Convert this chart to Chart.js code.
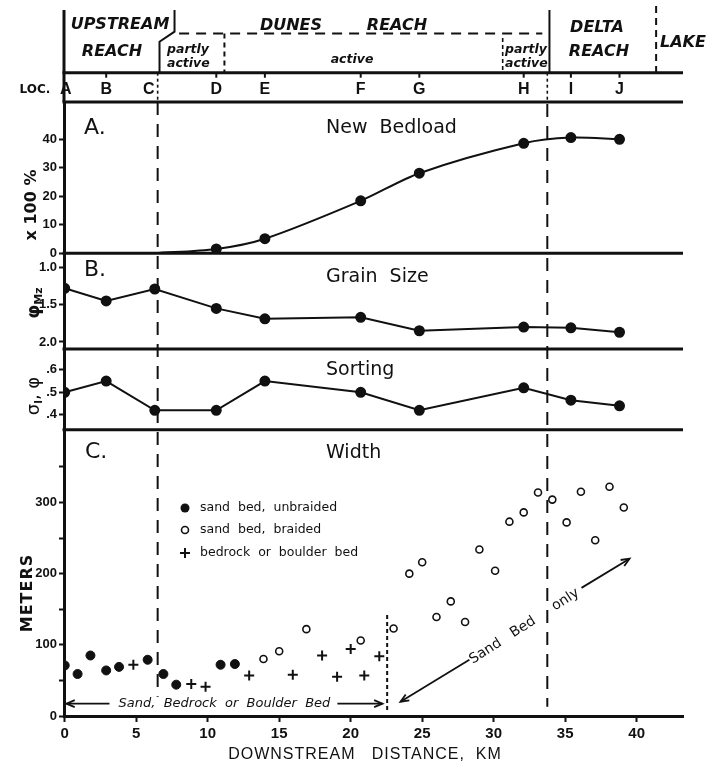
<!DOCTYPE html>
<html>
<head>
<meta charset="utf-8">
<title>Downstream changes in bedload, grain size, sorting and width</title>
<script src="https://cdn.jsdelivr.net/npm/chart.js@4/dist/chart.umd.min.js"></script>
<style>
  html, body { margin: 0; padding: 0; background: #fff; }
  #wrap { position: relative; width: 709px; height: 766px; }
</style>
</head>
<body>
<div id="wrap"><canvas id="chart" width="709" height="766"></canvas></div>
<script>
// ================= DATA =================
const locNames = ["A", "B", "C", "D", "E", "F", "G", "H", "I", "J"];
const locKm = [0, 2.9, 6.3, 10.6, 14.0, 20.7, 24.8, 32.1, 35.4, 38.8];

const newBedload = [null, null, 0, 1.5, 5.1, 18.4, 28.1, 38.6, 40.6, 40.0];
const grainSize = [1.28, 1.45, 1.29, 1.55, 1.69, 1.67, 1.85, 1.80, 1.81, 1.87];
const sorting = [0.50, 0.55, 0.42, 0.42, 0.55, 0.50, 0.42, 0.52, 0.465, 0.44];

const unbraidedKm = [0, 0.9, 1.8, 2.9, 3.8, 5.8, 6.9, 7.8, 10.9, 11.9];
const unbraidedM = [71, 59, 85, 64, 69, 79, 59, 44, 72, 73];

const braidedKm = [13.9, 15.0, 16.9, 20.7, 23.0, 24.1, 25.0, 26.0, 27.0, 28.0, 29.0,
                   30.1, 31.1, 32.1, 33.1, 34.1, 35.1, 36.1, 37.1, 38.1, 39.1];
const braidedM = [80, 91, 122, 106, 123, 200, 216, 139, 161, 132, 234,
                  204, 273, 286, 314, 304, 272, 315, 247, 322, 293];

const bedrockKm = [4.8, 8.85, 9.85, 12.9, 15.95, 18.0, 19.05, 20.0, 20.95, 22.0];
const bedrockM = [72, 45, 41, 57, 58, 85, 55, 94, 57, 84];

const xTicks = [0, 5, 10, 15, 20, 25, 30, 35, 40];
const bedloadTicks = [0, 10, 20, 30, 40];
const grainTicks = [1.0, 1.5, 2.0];
const sortingTicks = [0.4, 0.5, 0.6];
const widthTicks = [0, 50, 100, 150, 200, 250, 300, 350];

// ================= HELPERS =================
const INK = "#111";
const pts = (xs, ys) => xs.map((x, i) => ({ x, y: ys[i] }));

function text(ctx, str, x, y, font, align = "left") {
  ctx.font = font;
  ctx.textAlign = align;
  ctx.textBaseline = "middle";
  ctx.fillText(str, x, y);
}

function rotText(ctx, parts, cx, cy, angle) {
  // parts: [{ s, font, dy }] drawn one after another, centred on (cx, cy)
  ctx.save();
  ctx.translate(cx, cy);
  ctx.rotate(angle);
  let total = 0;
  parts.forEach(p => { ctx.font = p.font; total += ctx.measureText(p.s).width; });
  let x = -total / 2;
  ctx.textAlign = "left";
  ctx.textBaseline = "middle";
  parts.forEach(p => {
    ctx.font = p.font;
    ctx.fillText(p.s, x, p.dy || 0);
    x += ctx.measureText(p.s).width;
  });
  ctx.restore();
}

function line(ctx, x1, y1, x2, y2, width, dash) {
  ctx.save();
  ctx.lineWidth = width;
  ctx.setLineDash(dash || []);
  ctx.beginPath();
  ctx.moveTo(x1, y1);
  ctx.lineTo(x2, y2);
  ctx.stroke();
  ctx.restore();
}

function arrow(ctx, x1, y1, x2, y2) {
  line(ctx, x1, y1, x2, y2, 1.8);
  const a = Math.atan2(y2 - y1, x2 - x1);
  const h = 9;
  ctx.save();
  ctx.lineWidth = 1.8;
  ctx.beginPath();
  ctx.moveTo(x2 - h * Math.cos(a - 0.4), y2 - h * Math.sin(a - 0.4));
  ctx.lineTo(x2, y2);
  ctx.lineTo(x2 - h * Math.cos(a + 0.4), y2 - h * Math.sin(a + 0.4));
  ctx.stroke();
  ctx.restore();
}

// ================= FIGURE DECORATIONS =================
const figurePlugin = {
  id: "figure",
  beforeDatasetsDraw(chart) {
    const { ctx, chartArea, scales } = chart;
    const px = km => scales.x.getPixelForValue(km);
    const yC = m => scales.yC.getPixelForValue(m);
    ctx.save();
    ctx.strokeStyle = INK;
    // reach boundaries running through the panels
    line(ctx, px(6.5), chartArea.top, px(6.5), yC(27), 2, [13, 9]);
    line(ctx, px(33.75), chartArea.top + 2, px(33.75), yC(13), 2, [13, 9]);
    line(ctx, px(22.55), yC(142), px(22.55), yC(6), 2, [4, 3]);
    ctx.restore();
  },
  afterDraw(chart) {
    const { ctx, chartArea, scales } = chart;
    const px = km => scales.x.getPixelForValue(km);
    const yC = m => scales.yC.getPixelForValue(m);
    const L = chartArea.left, R = chartArea.right;
    const top = chartArea.top;
    const reachLine = 72.7;

    ctx.save();
    ctx.strokeStyle = INK;
    ctx.fillStyle = INK;

    // ---- panel separators ----
    [scales.yA.top, scales.yA.bottom, scales.yB.bottom, scales.yS.bottom].forEach(y => line(ctx, L - 1.5, y, R, y, 3));

    // ---- header: reaches ----
    line(ctx, L, 10, L, top, 3);
    line(ctx, L - 1.5, reachLine, R, reachLine, 3);
    // upstream bracket
    ctx.save();
    ctx.lineWidth = 2;
    ctx.beginPath();
    ctx.moveTo(px(7.68), 10);
    ctx.lineTo(px(7.68), 31.7);
    ctx.lineTo(px(6.63), 41.7);
    ctx.lineTo(px(6.63), reachLine);
    ctx.stroke();
    ctx.restore();
    line(ctx, px(8.0), 33.5, px(33.4), 33.5, 2, [10, 7]);
    line(ctx, px(11.17), 33.5, px(11.17), reachLine, 2, [5, 4]);
    line(ctx, px(30.63), 38, px(30.63), reachLine, 1.6, [4, 3]);
    line(ctx, px(33.9), 10, px(33.9), reachLine, 2);
    line(ctx, px(41.36), 6, px(41.36), reachLine, 2, [7, 5]);
    // LOC row
    line(ctx, px(6.5), reachLine, px(6.5), top, 1.6, [3, 3]);
    line(ctx, px(33.75), reachLine, px(33.75), top, 1.6, [3, 3]);
    locKm.forEach((k, i) => {
      if (i === 0 || i === 2) return;
      line(ctx, px(k), reachLine, px(k), reachLine + 5, 2);
    });

    const reachFont = "italic bold 16px 'DejaVu Sans'";
    const smallFont = "italic bold 12.5px 'DejaVu Sans'";
    text(ctx, "UPSTREAM", 120, 25, reachFont, "center");
    text(ctx, "REACH", 112, 52, reachFont, "center");
    text(ctx, "partly", 167, 50, smallFont);
    text(ctx, "active", 167, 63.5, smallFont);
    text(ctx, "DUNES", 291, 26, reachFont, "center");
    text(ctx, "REACH", 397, 26, reachFont, "center");
    text(ctx, "active", 352, 60, smallFont, "center");
    text(ctx, "partly", 505, 50, smallFont);
    text(ctx, "active", 505, 63.5, smallFont);
    text(ctx, "DELTA", 597, 28, reachFont, "center");
    text(ctx, "REACH", 599, 52, reachFont, "center");
    text(ctx, "LAKE", 660, 43, reachFont);

    text(ctx, "LOC.", 35, 90, "bold 12px 'DejaVu Sans'", "center");
    locNames.forEach((n, i) => {
      const dx = i === 2 ? -6 : (i === 0 ? 1 : 0);
      text(ctx, n, px(locKm[i]) + dx, 90, "bold 16px 'Liberation Sans'", "center");
    });

    // ---- panel titles ----
    const titleFont = "19px 'DejaVu Sans'";
    text(ctx, "A.", 84, 128, "22px 'DejaVu Sans'");
    text(ctx, "New  Bedload", 326, 128, titleFont);
    text(ctx, "B.", 84, 270, "22px 'DejaVu Sans'");
    text(ctx, "Grain  Size", 326, 277, titleFont);
    text(ctx, "Sorting", 326, 370, titleFont);
    text(ctx, "C.", 85, 452, "22px 'DejaVu Sans'");
    text(ctx, "Width", 326, 453, titleFont);

    // ---- axis titles ----
    const up = -Math.PI / 2;
    rotText(ctx, [{ s: "x 100 %", font: "bold 16px 'DejaVu Sans'" }], 32, 205, up);
    rotText(ctx, [{ s: "\u03C6", font: "bold 18px 'DejaVu Sans'" },
                  { s: "Mz", font: "bold 11px 'DejaVu Sans'", dy: 5 }], 34, 303, up);
    rotText(ctx, [{ s: "\u03C3", font: "18px 'DejaVu Sans'" },
                  { s: "I", font: "bold 10px 'DejaVu Sans'", dy: 5 },
                  { s: ", \u03C6", font: "18px 'DejaVu Sans'" }], 34, 396, up);
    ctx.save();
    ctx.letterSpacing = "1px";
    rotText(ctx, [{ s: "METERS", font: "bold 16px 'DejaVu Sans'" }], 28, 593, up);
    ctx.restore();

    ctx.save();
    ctx.letterSpacing = "1px";
    text(ctx, "DOWNSTREAM   DISTANCE,  KM", 365, 755, "16px 'Liberation Sans'", "center");
    ctx.restore();

    // ---- legend in panel C ----
    const legendFont = "12.5px 'DejaVu Sans'";
    const rows = [508, 530, 553];
    ctx.beginPath();
    ctx.arc(185, rows[0], 4.5, 0, Math.PI * 2);
    ctx.fill();
    ctx.lineWidth = 1.6;
    ctx.beginPath();
    ctx.arc(185, rows[1], 3.5, 0, Math.PI * 2);
    ctx.stroke();
    line(ctx, 180, rows[2], 190, rows[2], 2);
    line(ctx, 185, rows[2] - 5, 185, rows[2] + 5, 2);
    text(ctx, "sand  bed,  unbraided", 200, rows[0], legendFont);
    text(ctx, "sand  bed,  braided", 200, rows[1], legendFont);
    text(ctx, "bedrock  or  boulder  bed", 200, rows[2], legendFont);

    // ---- annotations in panel C ----
    const yArrow = yC(17.3);
    arrow(ctx, px(3.13), yArrow, px(0.12), yArrow);
    arrow(ctx, px(19.07), yArrow, px(22.22), yArrow);
    text(ctx, "Sand,  Bedrock  or  Boulder  Bed", px(11.17), yArrow, "italic 13px 'DejaVu Sans'", "center");

    arrow(ctx, px(28.3), yC(79), px(23.48), yC(20));
    arrow(ctx, px(36.14), yC(180), px(39.5), yC(221));
    rotText(ctx, [{ s: "Sand   Bed     only", font: "14px 'DejaVu Sans'" }], px(32.15), yC(126), -32.8 * Math.PI / 180);

    ctx.restore();
  }
};

// ================= SCALES =================
function yAxis(min, max, ticks, stackWeight, order, fmt, reverse) {
  return {
    type: "linear",
    position: "left",
    stack: "panels",
    stackWeight,
    weight: order,
    min,
    max,
    reverse: !!reverse,
    afterFit: s => { s.width = 64; },
    afterBuildTicks: s => { s.ticks = ticks.map(v => ({ value: v })); },
    border: { display: true, color: INK, width: 3 },
    grid: { drawOnChartArea: false, drawTicks: true, tickLength: 5, tickWidth: 2, tickColor: INK },
    ticks: {
      color: INK,
      padding: 2,
      font: { family: "'Liberation Sans'", weight: "bold", size: 13 },
      callback: fmt
    }
  };
}

const scales = {
  x: {
    type: "linear",
    min: -0.05,
    max: 43.24,
    afterFit: s => { s.height = 50; },
    afterBuildTicks: s => { s.ticks = xTicks.map(v => ({ value: v })); },
    border: { display: true, color: INK, width: 3 },
    grid: { drawOnChartArea: false, drawTicks: true, tickLength: 6, tickWidth: 2, tickColor: INK },
    ticks: {
      color: INK,
      padding: 3,
      maxRotation: 0,
      font: { family: "'Liberation Sans'", weight: "bold", size: 15 },
      callback: v => String(v)
    }
  },
  yA: yAxis(0, 53.1, bedloadTicks, 151.3, 4, v => String(v)),
  yB: yAxis(0.81, 2.093, grainTicks, 95.7, 3, v => v.toFixed(1), true),
  yS: yAxis(0.333, 0.693, sortingTicks, 81, 2, v => "." + Math.round(v * 10)),
  yC: yAxis(0, 402, widthTicks, 286.3, 1, v => (v % 100 === 0 ? String(v) : ""))
};

// ================= CHART =================
const lineStyle = {
  type: "line",
  borderColor: INK,
  backgroundColor: INK,
  borderWidth: 2,
  pointRadius: 4.5,
  pointHoverRadius: 4.5,
  fill: false
};

new Chart(document.getElementById("chart"), {
  type: "line",
  data: {
    datasets: [
      {
        ...lineStyle,
        label: "New Bedload",
        yAxisID: "yA",
        data: pts(locKm, newBedload),
        tension: 0.3,
        pointRadius: c => (c.raw && c.raw.y === 0 ? 0 : 4.5)
      },
      { ...lineStyle, label: "Grain Size", yAxisID: "yB", data: pts(locKm, grainSize) },
      { ...lineStyle, label: "Sorting", yAxisID: "yS", data: pts(locKm, sorting) },
      {
        label: "sand bed, unbraided",
        yAxisID: "yC",
        data: pts(unbraidedKm, unbraidedM),
        showLine: false,
        pointRadius: 4.5,
        backgroundColor: INK,
        borderColor: INK
      },
      {
        label: "sand bed, braided",
        yAxisID: "yC",
        data: pts(braidedKm, braidedM),
        showLine: false,
        pointRadius: 3.5,
        borderWidth: 1.6,
        backgroundColor: "#fff",
        borderColor: INK
      },
      {
        label: "bedrock or boulder bed",
        yAxisID: "yC",
        data: pts(bedrockKm, bedrockM),
        showLine: false,
        pointStyle: "cross",
        pointRadius: 5,
        borderWidth: 2,
        borderColor: INK
      }
    ]
  },
  options: {
    responsive: false,
    devicePixelRatio: 1,
    animation: false,
    layout: { padding: { top: 102, right: 26, left: 0, bottom: 0 } },
    plugins: { legend: { display: false }, tooltip: { enabled: false } },
    scales
  },
  plugins: [figurePlugin]
});
</script>
</body>
</html>
